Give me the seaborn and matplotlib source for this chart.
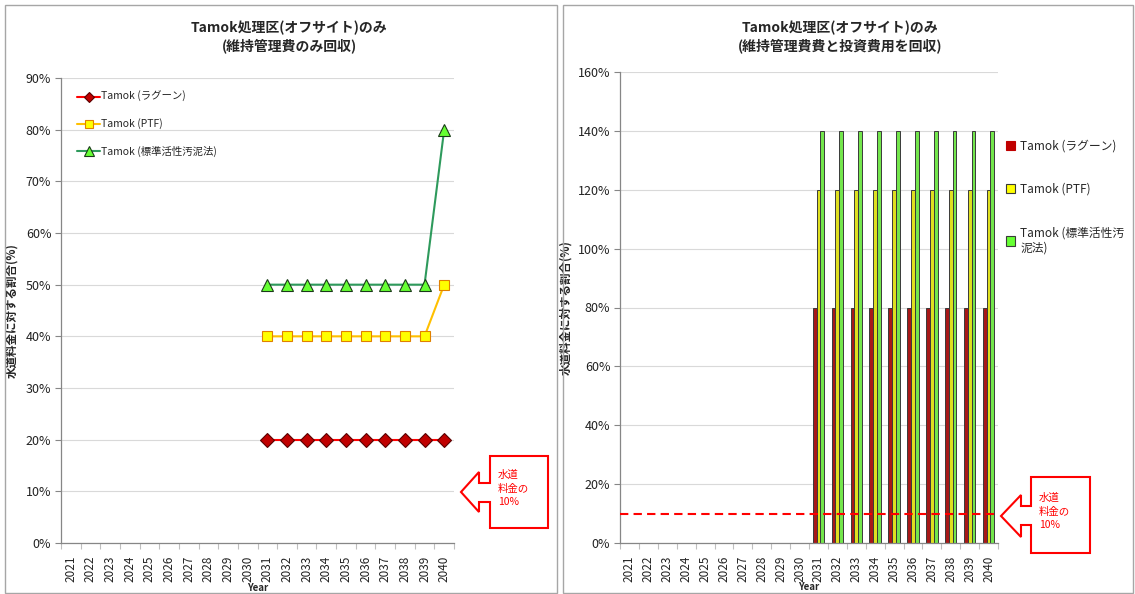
import numpy as np
import pandas as pd
import matplotlib
matplotlib.use("Agg")
import matplotlib.pyplot as plt
from matplotlib.patches import Rectangle, Polygon
from matplotlib.lines import Line2D
from matplotlib.ticker import PercentFormatter, MultipleLocator, FixedLocator
import seaborn as sns

sns.set_theme(style="white")
plt.rcParams["font.family"] = ["Noto Sans CJK JP", "DejaVu Sans"]

# ---- data ----
years = list(range(2021, 2041))
n_empty = 10  # 2021-2030 have no values

# O&M cost recovery only (share of water tariff, %)
lagoon_om = [None] * n_empty + [20, 20, 20, 20, 20, 20, 20, 20, 20, 20]
ptf_om = [None] * n_empty + [40, 40, 40, 40, 40, 40, 40, 40, 40, 50]
asp_om = [None] * n_empty + [50, 50, 50, 50, 50, 50, 50, 50, 50, 80]

# O&M plus investment cost recovery (share of water tariff, %)
lagoon_full = [None] * n_empty + [80] * 10
ptf_full = [None] * n_empty + [120] * 10
asp_full = [None] * n_empty + [140] * 10

tariff_line = 10  # 水道料金の10%

series_names = ["Tamok (ラグーン)", "Tamok (PTF)", "Tamok (標準活性汚泥法)"]
bar_legend_names = ["Tamok (ラグーン)", "Tamok (PTF)", "Tamok (標準活性汚\n泥法)"]

left_title = "Tamok処理区(オフサイト)のみ\n(維持管理費のみ回収)"
right_title = "Tamok処理区(オフサイト)のみ\n(維持管理費費と投資費用を回収)"
ylabel = "水道料金に対する割合(%)"
callout_text = "水道\n料金の\n10%"

# ---- figure ----
W, H = 1135, 594
fig = plt.figure(figsize=(W / 100, H / 100), dpi=100)


def fx(x):
    return x / W


def fy(y):
    return 1 - y / H


# panel frames
for x0, x1 in [(5, 557), (563, 1133)]:
    fig.add_artist(Rectangle((fx(x0), fy(593)), fx(x1) - fx(x0), fy(5) - fy(593),
                             transform=fig.transFigure, fill=False,
                             edgecolor="#a6a6a6", linewidth=1.0))

axL = fig.add_axes([fx(61), fy(543), fx(454) - fx(61), fy(78) - fy(543)])
axR = fig.add_axes([fx(620), fy(543), fx(998) - fx(620), fy(72) - fy(543)])


def style_axis(ax, ymax, ystep):
    ax.set_ylim(0, ymax)
    ax.yaxis.set_major_locator(MultipleLocator(ystep))
    ax.yaxis.set_major_formatter(PercentFormatter(decimals=0))
    ax.grid(axis="y", color="#d9d9d9", linewidth=0.8)
    ax.grid(axis="x", visible=False)
    ax.set_axisbelow(True)
    for side in ["top", "right"]:
        ax.spines[side].set_visible(False)
    for side in ["left", "bottom"]:
        ax.spines[side].set_color("#868686")
        ax.spines[side].set_linewidth(0.9)
    ax.tick_params(axis="y", which="major", left=True, length=4, width=0.8,
                   color="#868686", labelsize=9, labelcolor="#222222", pad=3)
    ax.tick_params(axis="x", which="major", bottom=False, labelsize=8.5,
                   labelrotation=90, labelcolor="#222222", pad=3)
    ax.tick_params(axis="x", which="minor", bottom=True, length=4, width=0.8,
                   color="#bfbfbf")
    ax.set_ylabel(ylabel, fontsize=8.3, fontweight="bold")
    ax.set_xlabel("Year", fontsize=7, fontweight="bold")


# ---- left: line chart ----
dfL = pd.DataFrame({"year": years, series_names[0]: lagoon_om,
                    series_names[1]: ptf_om, series_names[2]: asp_om})
line_styles = [
    dict(color="#ff0000", marker="D", markerfacecolor="#c00000",
         markeredgecolor="#5a0000"),
    dict(color="#ffc000", marker="s", markerfacecolor="#ffff00",
         markeredgecolor="#e08000"),
    dict(color="#2e9a5c", marker="^", markerfacecolor="#66ff33",
         markeredgecolor="#1a3a1a"),
]
marker_sizes = [7.2, 7.5, 9]
for name, st, ms in zip(series_names, line_styles, marker_sizes):
    d = dfL[["year", name]].dropna()
    sns.lineplot(data=d, x="year", y=name, ax=axL, linewidth=1.5,
                 markeredgewidth=0.8, markersize=ms, legend=False, **st)

axL.set_xlim(years[0] - 0.5, years[-1] + 0.5)
axL.xaxis.set_major_locator(FixedLocator(years))
axL.set_xticklabels([str(y) for y in years])
axL.xaxis.set_minor_locator(FixedLocator(np.arange(years[0] - 0.5, years[-1] + 1, 1)))
style_axis(axL, 90, 10)
axL.yaxis.set_label_coords(-0.109, 0.5)
axL.xaxis.set_label_coords(0.5, -0.085)

handlesL = [Line2D([], [], linewidth=1.5, markeredgewidth=0.8,
                   markersize=ms - 2, **st)
            for st, ms in zip(line_styles, marker_sizes)]
axL.legend(handlesL, series_names, loc="upper left",
           bbox_to_anchor=(fx(72), fy(86)), bbox_transform=fig.transFigure,
           frameon=False, fontsize=7.5, labelspacing=1.55, handlelength=2.2,
           handletextpad=0.1, borderpad=0)

# ---- right: clustered bars ----
dfR = pd.DataFrame({"year": [str(y) for y in years], series_names[0]: lagoon_full,
                    series_names[1]: ptf_full, series_names[2]: asp_full})
dfR_long = dfR.melt(id_vars="year", var_name="series", value_name="share").dropna()
bar_colors = ["#c00000", "#ffff00", "#66ff33"]
sns.barplot(data=dfR_long, x="year", y="share", hue="series",
            order=[str(y) for y in years], hue_order=series_names,
            palette=bar_colors, width=0.6, gap=0.0, ax=axR,
            edgecolor="#3a3a3a", linewidth=0.7, legend=False)
axR.set_xlim(-0.5, len(years) - 0.5)
axR.xaxis.set_minor_locator(FixedLocator(np.arange(-0.5, len(years), 1)))
style_axis(axR, 160, 20)
axR.yaxis.set_label_coords(-0.127, 0.5)
axR.xaxis.set_label_coords(0.5, -0.083)
axR.axhline(tariff_line, color="#ff0000", linestyle=(0, (4, 2.5)), linewidth=1.5,
            xmin=0, xmax=1, zorder=5)

handlesR = [Rectangle((0, 0), 1, 1, facecolor=c,
                      edgecolor="#3a3a3a" if i else "#c00000", linewidth=0.8)
            for i, c in enumerate(bar_colors)]
axR.legend(handlesR, bar_legend_names, loc="upper left",
           bbox_to_anchor=(fx(1000), fy(134)), bbox_transform=fig.transFigure,
           frameon=False, fontsize=8.5, labelspacing=2.55, handlelength=0.8,
           handleheight=0.8, handletextpad=0.4, borderpad=0)

# ---- titles ----
fig.text(fx(289), fy(37), left_title, ha="center", va="center",
         fontsize=10, fontweight="bold", linespacing=1.3)
fig.text(fx(840), fy(37), right_title, ha="center", va="center",
         fontsize=10, fontweight="bold", linespacing=1.3)


# ---- callouts (left-pointing arrow with box) ----
def callout(box_l, box_t, box_r, box_b, shaft_l, shaft_t, shaft_b,
            head_t, head_b, tip_x, tip_y, text_x, text_y):
    pts = [(box_l, box_t), (box_r, box_t), (box_r, box_b), (box_l, box_b),
           (box_l, shaft_b), (shaft_l, shaft_b), (shaft_l, head_b),
           (tip_x, tip_y), (shaft_l, head_t), (shaft_l, shaft_t), (box_l, shaft_t)]
    fig.add_artist(Polygon([(fx(x), fy(y)) for x, y in pts], closed=True,
                           transform=fig.transFigure, facecolor="white",
                           edgecolor="#ff0000", linewidth=1.5, zorder=10))
    fig.text(fx(text_x), fy(text_y), callout_text, ha="left", va="top",
             color="#ff0000", fontsize=7.5, linespacing=1.45, zorder=11)


callout(490, 456, 548, 528, 479, 483, 502, 472, 512, 461, 492, 498, 470)
callout(1031, 477, 1090, 553, 1021, 506, 525, 495, 537, 1001, 516, 1039, 493)

fig.savefig("out.png", dpi=100)
